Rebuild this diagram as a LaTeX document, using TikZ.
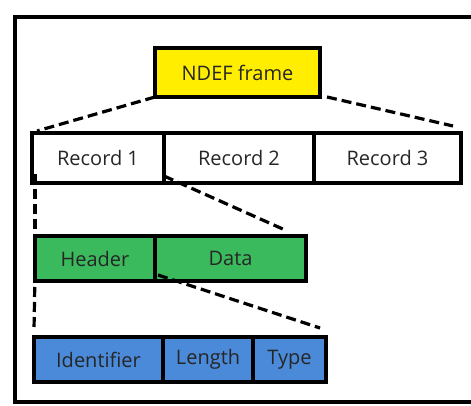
\documentclass[tikz,border=0pt]{standalone}
\usepackage{fontspec}
\setmainfont{Open Sans}
\usetikzlibrary{positioning}
\definecolor{framefill}{RGB}{255,238,0}
\definecolor{headfill}{RGB}{58,186,92}
\definecolor{idfill}{RGB}{74,138,216}
\begin{document}
\begin{tikzpicture}[
      x=1pt,y=-1pt,
      field/.style={
         rectangle,
         draw=black,
         line width=3.4pt,
         outer sep=0pt,
         inner sep=0pt,
         font=\fontsize{20}{24}\selectfont,
         text=black!85
      },
      frame box/.style={field,fill=framefill,minimum width=165pt,minimum height=49pt},
      record/.style={field,fill=white,minimum height=50pt},
      part/.style={field,fill=headfill,minimum height=45pt},
      subpart/.style={field,fill=idfill,minimum height=45pt},
      link/.style={line width=3.2pt,dash pattern=on 10pt off 5pt},
      node distance=0pt
    ]
    \useasboundingbox (0,0) rectangle (471,406);
    \clip (0,0) rectangle (471,406);
    % outer border, right edge cut off
    \draw[line width=4pt] (480,17) -- (15,17) -- (15,402) -- (480,402);
    % top
    \node (ndef) [frame box] at (237.5,72.5) {NDEF frame};
    % records
    \node (rec1) [record,minimum width=132pt] at (98,158) {Record 1};
    \node (rec2) [record,minimum width=150pt,right=of rec1] {Record 2};
    \node (rec3) [record,minimum width=147pt,right=of rec2] {Record 3};
    % header / data
    \node (head) [part,minimum width=120pt] at (95,258.5) {Header};
    \node (data) [part,minimum width=151pt,right=of head] {Data};
    % header fields
    \node (ident) [subpart,minimum width=129pt] at (98.5,359.5) {Identifier};
    \node (len) [subpart,minimum width=90pt,right=of ident] {Length};
    \node (type) [subpart,minimum width=73pt,right=of len] {Type};
    % zoom lines
    \draw[link] (ndef.south west) -- ([xshift=5pt,yshift=2pt]rec1.north west);
    \draw[link] ([xshift=7pt]ndef.south east) -- ([xshift=-8pt,yshift=7pt]rec3.north east);
    \draw[link] ([xshift=3pt,yshift=9pt]rec1.south west) -- ([xshift=0pt,yshift=6pt]head.north west);
    \draw[link] ([yshift=7pt]rec1.south east) -- ([xshift=-21pt,yshift=6pt]data.north east);
    \draw[link] ([xshift=0pt,yshift=9pt]head.south west) -- ([yshift=7pt]ident.north west);
    \draw[link] ([xshift=3pt,yshift=6pt]head.south east) -- ([xshift=-6pt,yshift=9pt]type.north east);
\end{tikzpicture}
\end{document}
